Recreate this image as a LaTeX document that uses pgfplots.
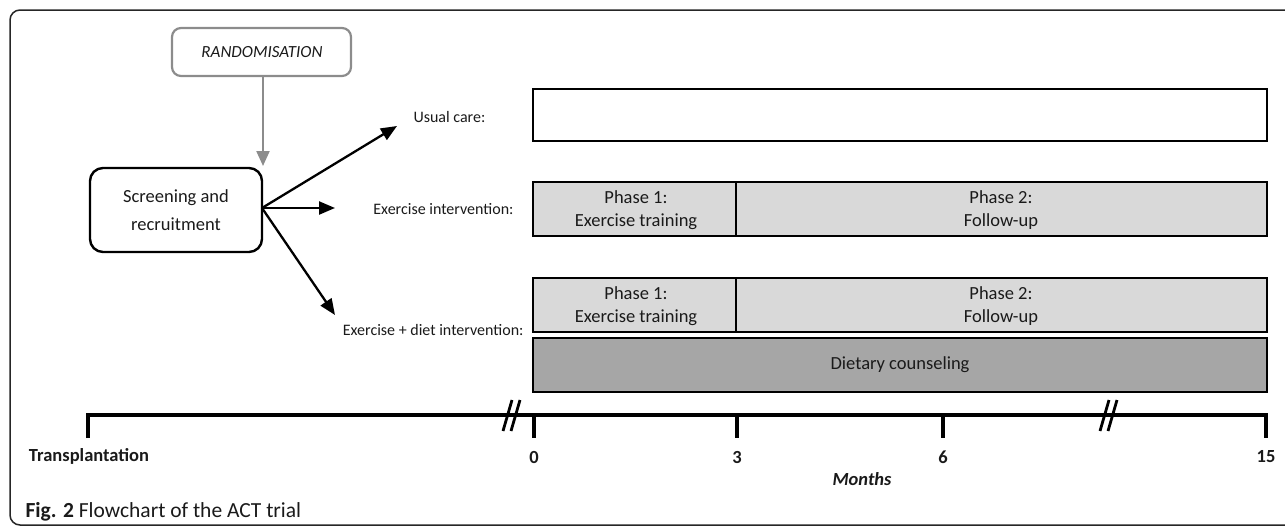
\documentclass[border=0pt]{standalone}
\usepackage{pgfplots}
\pgfplotsset{compat=1.18}
\usepackage{fontspec}
\setmainfont{Carlito}
\usetikzlibrary{arrows.meta}
\definecolor{lightbox}{HTML}{D9D9D9}
\definecolor{darkbox}{HTML}{A6A6A6}
\definecolor{randgray}{HTML}{8C8C8C}
\definecolor{txt}{HTML}{1A1A1A}
\begin{document}
\begin{tikzpicture}
\begin{axis}[x=1pt,y=1pt,xmin=0,xmax=1285,ymin=0,ymax=528,y dir=reverse,
  hide axis,clip=false]
% outer frame
\draw[line width=1.5pt,color=black!85,rounded corners=10pt]
  (axis cs:1285,10) -- (axis cs:10,10) -- (axis cs:10,525) -- (axis cs:1285,525);
% randomisation
\draw[line width=2.2pt,randgray,rounded corners=9pt] (axis cs:172,28) rectangle (axis cs:351,76);
\node[font=\fontsize{17}{20}\selectfont\itshape,text=txt] at (axis cs:262,52) {RANDOMISATION};
\draw[line width=2.2pt,randgray,-{Triangle[length=15pt,width=13pt]}] (axis cs:263,76) -- (axis cs:263,166);
% screening box
\draw[line width=2.4pt,black,rounded corners=13pt] (axis cs:90,168) rectangle (axis cs:262,252);
\node[font=\fontsize{18.5}{28}\selectfont,align=center,text=txt] at (axis cs:176,210) {Screening and\\recruitment};
% arrows
\draw[line width=2.3pt,-{Triangle[length=16pt,width=13pt]}] (axis cs:262,208) -- (axis cs:397,126);
\draw[line width=2.3pt,-{Triangle[length=16pt,width=13pt]}] (axis cs:262,208) -- (axis cs:335,208);
\draw[line width=2.3pt,-{Triangle[length=16pt,width=13pt]}] (axis cs:262,208) -- (axis cs:335,315);
% labels
\node[anchor=west,font=\fontsize{16}{19}\selectfont,text=txt] at (axis cs:410,117) {Usual care:};
\node[anchor=east,font=\fontsize{16}{19}\selectfont,text=txt] at (axis cs:517,209) {Exercise intervention:};
\node[anchor=east,font=\fontsize{16}{19}\selectfont,text=txt] at (axis cs:527,330) {Exercise + diet intervention:};
% usual care box
\addplot[draw=black,line width=2.3pt,fill=white] coordinates {(533,89) (1267,89) (1267,141) (533,141)} -- cycle;
% exercise intervention
\addplot[draw=black,line width=2.3pt,fill=lightbox] coordinates {(533,182) (736,182) (736,236) (533,236)} -- cycle;
\addplot[draw=black,line width=2.3pt,fill=lightbox] coordinates {(736,182) (1267,182) (1267,236) (736,236)} -- cycle;
% exercise + diet
\addplot[draw=black,line width=2.3pt,fill=lightbox] coordinates {(533,278) (736,278) (736,332) (533,332)} -- cycle;
\addplot[draw=black,line width=2.3pt,fill=lightbox] coordinates {(736,278) (1267,278) (1267,332) (736,332)} -- cycle;
\addplot[draw=black,line width=2.3pt,fill=darkbox] coordinates {(533,338) (1267,338) (1267,392) (533,392)} -- cycle;
\node[font=\fontsize{18.5}{23}\selectfont,align=center,text=txt] at (axis cs:636,210) {Phase 1:\\Exercise training};
\node[font=\fontsize{18.5}{23}\selectfont,align=center,text=txt] at (axis cs:1001,210) {Phase 2:\\Follow-up};
\node[font=\fontsize{18.5}{23}\selectfont,align=center,text=txt] at (axis cs:636,306) {Phase 1:\\Exercise training};
\node[font=\fontsize{18.5}{23}\selectfont,align=center,text=txt] at (axis cs:1001,306) {Phase 2:\\Follow-up};
\node[font=\fontsize{18.5}{23}\selectfont,text=txt] at (axis cs:900,365) {Dietary counseling};
% timeline
\addplot[draw=black,line width=3.2pt,line join=miter] coordinates {(88,438) (88,415) (1266,415) (1266,438)};
\addplot[draw=black,line width=3.2pt] coordinates {(534,415) (534,438)};
\addplot[draw=black,line width=3.2pt] coordinates {(737,415) (737,438)};
\addplot[draw=black,line width=3.2pt] coordinates {(943,415) (943,438)};
% breaks
\addplot[draw=black,line width=2.8pt] coordinates {(503,431) (512,400)};
\addplot[draw=black,line width=2.8pt] coordinates {(511,431) (520,400)};
\addplot[draw=black,line width=2.8pt] coordinates {(1100,431) (1109,400)};
\addplot[draw=black,line width=2.8pt] coordinates {(1108,431) (1117,400)};
% tick labels
\node[font=\fontsize{18.5}{22}\selectfont\bfseries,text=txt] at (axis cs:89,456) {Transplantation};
\node[font=\fontsize{18.5}{22}\selectfont\bfseries,text=txt] at (axis cs:534,457) {0};
\node[font=\fontsize{18.5}{22}\selectfont\bfseries,text=txt] at (axis cs:737,457) {3};
\node[font=\fontsize{18.5}{22}\selectfont\bfseries,text=txt] at (axis cs:943,457) {6};
\node[font=\fontsize{18.5}{22}\selectfont\bfseries,text=txt] at (axis cs:1266,457) {15};
\node[font=\fontsize{18.5}{22}\selectfont\bfseries\itshape,text=txt] at (axis cs:862,479) {Months};
% caption
\node[anchor=west,font=\fontsize{21.5}{26}\selectfont,text=txt] at (axis cs:22,512) {\textbf{Fig. 2} Flowchart of the ACT trial};
\end{axis}
\pgfresetboundingbox
\useasboundingbox (0,0) rectangle (1285pt,528pt);
\end{tikzpicture}
\end{document}
